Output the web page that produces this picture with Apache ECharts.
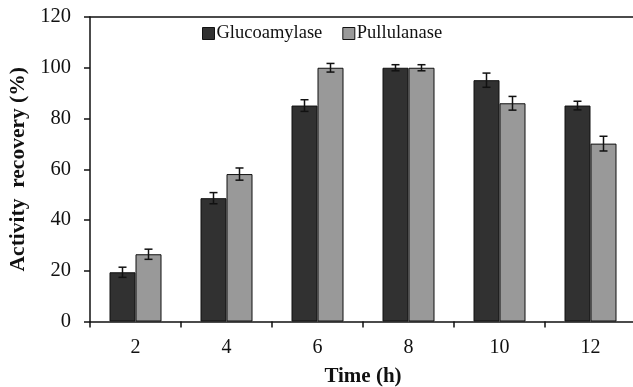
<!DOCTYPE html>
<html><head><meta charset="utf-8">
<script src="https://cdn.jsdelivr.net/npm/echarts@6/dist/echarts.min.js"></script>
<style>html,body{margin:0;padding:0;background:#fff}#c{width:633px;height:387px}</style>
</head><body><div id="c"></div>
<script>
const categories = ['2','4','6','8','10','12'];
const glucoamylase = [19.4, 48.6, 85.1, 100, 95.1, 85.1];
const glucoamylaseErr = [2.0, 2.2, 2.3, 1.2, 2.8, 1.7];
const pullulanase = [26.5, 58.1, 100, 100, 86.0, 70.1];
const pullulanaseErr = [2.0, 2.4, 1.7, 1.2, 2.7, 2.9];
const yTicks = [0, 20, 40, 60, 80, 100, 120];

const FONT = '"Liberation Serif", "Times New Roman", serif';
const BARW = 26;

function errSeries(vals, errs, side) {
  return {
    type: 'custom',
    z: 10,
    data: vals.map((v, i) => [i, v, errs[i]]),
    renderItem: function (params, api) {
      const i = api.value(0), v = api.value(1), e = api.value(2);
      const c = api.coord([i, v]);
      const x = c[0] + side * BARW / 2;
      const yHi = api.coord([i, v + e])[1];
      const yLo = api.coord([i, v - e])[1];
      const hw = 4;
      const st = { stroke: '#111', lineWidth: 1.5 };
      return { type: 'group', children: [
        { type: 'line', shape: { x1: x, y1: yHi, x2: x, y2: yLo }, style: st },
        { type: 'line', shape: { x1: x - hw, y1: yHi, x2: x + hw, y2: yHi }, style: st },
        { type: 'line', shape: { x1: x - hw, y1: yLo, x2: x + hw, y2: yLo }, style: st }
      ]};
    }
  };
}

const chart = echarts.init(document.getElementById('c'));
chart.setOption({
  animation: false,
  textStyle: { fontFamily: FONT },
  legend: {
    top: 24, left: 202, padding: 0,
    itemWidth: 12, itemHeight: 12, itemGap: 20,
    itemStyle: { borderColor: '#111', borderWidth: 1 },
    textStyle: { fontFamily: FONT, fontSize: 18.5, color: '#111', padding: [0, 0, 0, -3] },
    data: [
      { name: 'Glucoamylase', icon: 'rect' },
      { name: 'Pullulanase', icon: 'rect' }
    ]
  },
  grid: { left: 90, right: -3, top: 17, bottom: 65.5, outerBoundsMode: 'none', containLabel: false },
  xAxis: [{
    type: 'category', data: categories,
    axisLine: { lineStyle: { color: '#111', width: 1.5 } },
    axisTick: { show: true, length: 6, lineStyle: { color: '#111', width: 1.5 } },
    axisLabel: { fontFamily: FONT, fontSize: 20, color: '#111', margin: 16 },
    name: 'Time (h)', nameLocation: 'middle', nameGap: 45,
    nameTextStyle: { fontFamily: FONT, fontSize: 21, fontWeight: 'bold', color: '#111' }
  }, {
    type: 'category', data: categories, position: 'top',
    axisLine: { show: true, lineStyle: { color: '#111', width: 1.5 } },
    axisTick: { show: false }, axisLabel: { show: false }
  }],
  yAxis: {
    type: 'value', min: 0, max: 120, interval: 20,
    axisLine: { show: true, lineStyle: { color: '#111', width: 1.5 } },
    axisTick: { show: true, length: 6, lineStyle: { color: '#111', width: 1.5 } },
    splitLine: { show: false },
    axisLabel: { fontFamily: FONT, fontSize: 20.5, color: '#111', margin: 19,
      formatter: v => yTicks.includes(v) ? String(v) : '' },
    name: 'Activity  recovery (%)', nameLocation: 'middle', nameGap: 55,
    nameTextStyle: { fontFamily: FONT, fontSize: 21.5, fontWeight: 'bold', color: '#111' }
  },
  series: [
    { name: 'Glucoamylase', type: 'bar', data: glucoamylase, barWidth: BARW, barGap: '0%',
      itemStyle: { color: '#313131', borderColor: '#111', borderWidth: 1 } },
    { name: 'Pullulanase', type: 'bar', data: pullulanase, barWidth: BARW, barGap: '0%',
      itemStyle: { color: '#999999', borderColor: '#111', borderWidth: 1 } },
    errSeries(glucoamylase, glucoamylaseErr, -1),
    errSeries(pullulanase, pullulanaseErr, 1)
  ]
});
</script>
</body></html>
